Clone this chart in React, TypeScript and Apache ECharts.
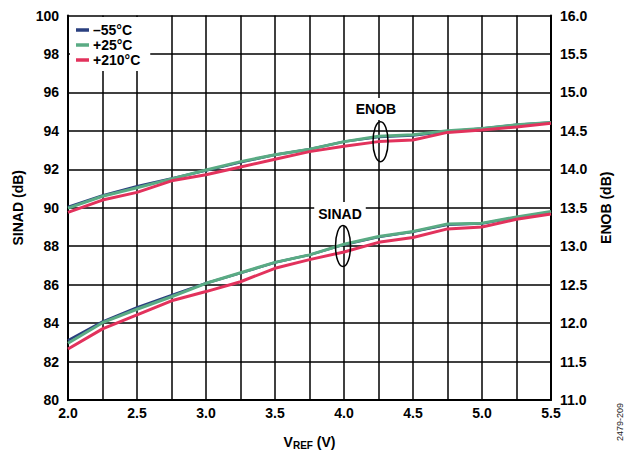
import React, { useEffect, useRef } from "react";
import * as echarts from "echarts";

const vref = [2.0, 2.25, 2.5, 2.75, 3.0, 3.25, 3.5, 3.75, 4.0, 4.25, 4.5, 4.75, 5.0, 5.25, 5.5];

// SINAD (dB), left axis
const sinadM55 = [83.1, 84.08, 84.82, 85.45, 86.07, 86.6, 87.15, 87.55, 88.08, 88.48, 88.75, 89.12, 89.18, 89.5, 89.78];
const sinad25 = [82.95, 84.02, 84.72, 85.37, 86.07, 86.62, 87.16, 87.55, 88.1, 88.5, 88.77, 89.15, 89.2, 89.52, 89.8];
const sinad210 = [82.65, 83.7, 84.43, 85.16, 85.64, 86.15, 86.85, 87.3, 87.7, 88.2, 88.45, 88.9, 89.0, 89.4, 89.68];

// ENOB (bits), right axis
const enobM55 = [13.51, 13.66, 13.78, 13.88, 13.985, 14.09, 14.19, 14.26, 14.36, 14.42, 14.44, 14.49, 14.53, 14.58, 14.61];
const enob25 = [13.495, 13.65, 13.76, 13.875, 13.99, 14.1, 14.19, 14.26, 14.36, 14.43, 14.45, 14.5, 14.53, 14.58, 14.61];
const enob210 = [13.44, 13.6, 13.7, 13.85, 13.93, 14.03, 14.13, 14.23, 14.3, 14.36, 14.38, 14.48, 14.51, 14.55, 14.6];

const seriesNames = ["\u201355°C", "+25°C", "+210°C"];
const seriesColors = ["#2a3f7f", "#5aab84", "#e2325c"];

const FONT = "'Liberation Sans', Arial, sans-serif";

const pairs = (ys: number[]) => vref.map((x, i) => [x, ys[i]]);

export default function App() {
  const ref = useRef<HTMLDivElement>(null);
  useEffect(() => {
    if (!ref.current) return;
    const chart = echarts.init(ref.current, undefined, { renderer: "svg" });
    const sinad = [sinadM55, sinad25, sinad210];
    const enob = [enobM55, enob25, enob210];
    const series: any[] = [];
    for (let k = 0; k < 3; k++) {
      series.push({
        name: seriesNames[k],
        type: "line",
        yAxisIndex: 0,
        data: pairs(sinad[k]),
        showSymbol: false,
        color: seriesColors[k],
        lineStyle: { width: k === 0 ? 2.5 : 3, color: seriesColors[k] },
        z: 2 + k,
      });
      series.push({
        name: seriesNames[k],
        type: "line",
        yAxisIndex: 1,
        data: pairs(enob[k]),
        showSymbol: false,
        color: seriesColors[k],
        lineStyle: { width: k === 0 ? 2.5 : 3, color: seriesColors[k] },
        z: 2 + k,
      });
    }
    const labelStyle = { fontFamily: FONT, fontWeight: "bold" as const, fontSize: 14, color: "#000" };
    chart.setOption({
      animation: false,
      backgroundColor: "#fff",
      grid: { left: 68, right: 86, top: 15.5, bottom: 52, outerBoundsMode: "none" },
      legend: {
        data: seriesNames,
        orient: "vertical",
        left: 70,
        top: 17,
        icon: "rect",
        itemWidth: 13,
        itemHeight: 3.5,
        itemGap: 1,
        padding: [6, 10, 4, 6],
        backgroundColor: "#fff",
        textStyle: { ...labelStyle, lineHeight: 14, padding: [0, 0, 0, -1] },
        z: 10,
      },
      xAxis: {
        type: "value",
        min: 2,
        max: 5.5,
        interval: 0.25,
        axisLine: { lineStyle: { color: "#000", width: 2 } },
        axisTick: { show: false },
        splitLine: { show: true, lineStyle: { color: "#000", width: 1.5 } },
        axisLabel: {
          ...labelStyle,
          margin: 6,
          formatter: (v: number) => (Math.abs(v * 2 - Math.round(v * 2)) < 1e-6 ? v.toFixed(1) : ""),
        },
        name: "{v|V}{s|REF}{v| (V)}",
        nameLocation: "middle",
        nameGap: 35,
        nameTextStyle: {
          rich: {
            v: { fontFamily: FONT, fontWeight: "bold", fontSize: 14, color: "#000", lineHeight: 14 },
            s: { fontFamily: FONT, fontWeight: "bold", fontSize: 10, color: "#000", lineHeight: 14, padding: [7, 0, 0, 0] },
          },
        },
      },
      yAxis: [
        {
          type: "value",
          min: 80,
          max: 100,
          interval: 2,
          position: "left",
          axisLine: { show: true, lineStyle: { color: "#000", width: 2 } },
          axisTick: { show: false },
          splitLine: { show: true, lineStyle: { color: "#000", width: 1.5 } },
          axisLabel: { ...labelStyle, margin: 9 },
          name: "SINAD (dB)",
          nameLocation: "middle",
          nameGap: 40,
          nameTextStyle: { ...labelStyle },
        },
        {
          type: "value",
          min: 11,
          max: 16,
          interval: 0.5,
          position: "right",
          axisLine: { show: true, lineStyle: { color: "#000", width: 2 } },
          axisTick: { show: false },
          splitLine: { show: false },
          axisLabel: { ...labelStyle, margin: 9, formatter: (v: number) => v.toFixed(1) },
          name: "ENOB (dB)",
          nameLocation: "middle",
          nameGap: 48,
          nameTextStyle: { ...labelStyle },
        },
      ],
      series,
      graphic: [
        {
          type: "text",
          x: 376,
          y: 109,
          z: 20,
          style: {
            text: "ENOB",
            font: "bold 14px 'Liberation Sans', Arial, sans-serif",
            fill: "#000",
            align: "center",
            verticalAlign: "middle",
            backgroundColor: "#fff",
            padding: [4, 4, 4, 4],
          },
        },
        {
          type: "ellipse",
          z: 20,
          shape: { cx: 380.5, cy: 141.7, rx: 7.5, ry: 20 },
          style: { fill: "none", stroke: "#000", lineWidth: 1.5 },
        },
        {
          type: "text",
          x: 340,
          y: 214,
          z: 20,
          style: {
            text: "SINAD",
            font: "bold 14px 'Liberation Sans', Arial, sans-serif",
            fill: "#000",
            align: "center",
            verticalAlign: "middle",
            backgroundColor: "#fff",
            padding: [5, 4, 5, 4],
          },
        },
        {
          type: "ellipse",
          z: 20,
          shape: { cx: 343, cy: 246, rx: 7.5, ry: 20.5 },
          style: { fill: "none", stroke: "#000", lineWidth: 1.5 },
        },
        {
          type: "text",
          x: 620,
          y: 422,
          rotation: Math.PI / 2,
          z: 20,
          style: {
            text: "2479-209",
            font: "9px 'Liberation Sans', Arial, sans-serif",
            fill: "#222",
            align: "center",
            verticalAlign: "middle",
          },
        },
      ],
    });
    return () => chart.dispose();
  }, []);
  return <div ref={ref} style={{ position: "fixed", left: 0, top: 0, width: 637, height: 452 }} />;
}
